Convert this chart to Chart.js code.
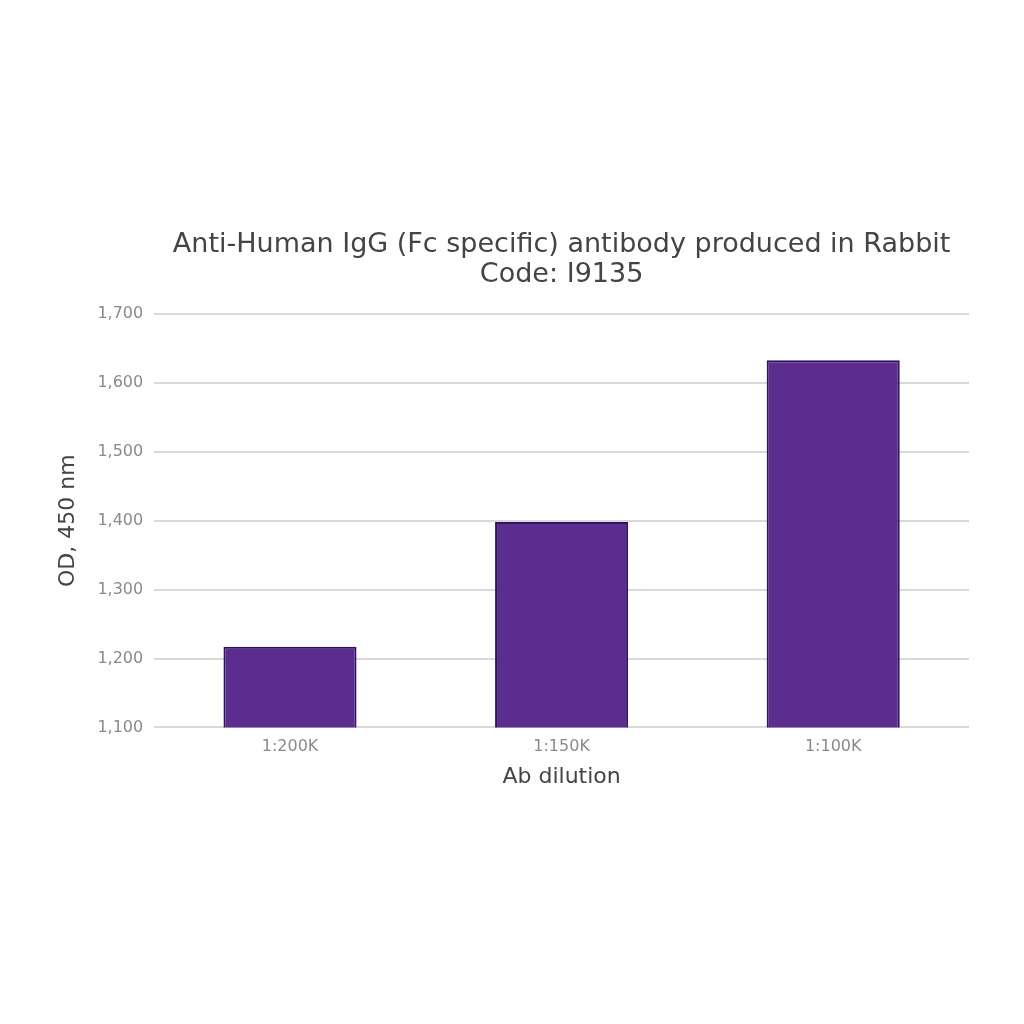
<!DOCTYPE html>
<html>
<head>
<meta charset="utf-8">
<script src="https://cdn.jsdelivr.net/npm/chart.js@4/dist/chart.umd.min.js"></script>
<style>
  html, body { margin: 0; padding: 0; background: #fff; }
  #wrap { width: 1024px; height: 1024px; }
</style>
</head>
<body>
<div id="wrap"><canvas id="chart-bar" width="1024" height="1024"></canvas></div>
<script>
// данные графика
const dilutions = ["1:200K", "1:150K", "1:100K"];
const odValues = [1.217, 1.398, 1.633];
const yTicks = [1.1, 1.2, 1.3, 1.4, 1.5, 1.6, 1.7];
const titleLines = [
  "Anti-Human IgG (Fc specific) antibody produced in Rabbit",
  "Code: I9135",
];

const FONT = "'DejaVu Sans', Verdana, sans-serif";

// формат подписей оси Y: 1,200
function formatTick(value) {
  return value.toFixed(3).replace(".", ",");
}

// заголовок по центру области графика, а не всего canvas
const areaTitlePlugin = {
  id: "areaTitlePlugin",
  afterDraw: function (chart) {
    const ctx = chart.ctx;
    const area = chart.chartArea;
    const x = (area.left + area.right) / 2;
    ctx.save();
    ctx.font = "27px " + FONT;
    ctx.fillStyle = "#444";
    ctx.textAlign = "center";
    ctx.textBaseline = "middle";
    titleLines.forEach((line, i) => {
      ctx.fillText(line, x, area.top - 69 + i * 30);
    });
    ctx.restore();
  },
};

const ctx = document.getElementById("chart-bar").getContext("2d");

new Chart(ctx, {
  type: "bar",
  data: {
    labels: dilutions,
    datasets: [
      {
        data: odValues,
        backgroundColor: "#5b2d8e",
        borderColor: "#2e1263",
        borderWidth: 2,
        barPercentage: 0.49,
        categoryPercentage: 1,
      },
    ],
  },
  plugins: [areaTitlePlugin],
  options: {
    responsive: false,
    animation: false,
    devicePixelRatio: 1,
    layout: { padding: { top: 314, bottom: 234, left: 55, right: 55 } },
    scales: {
      y: {
        min: 1.1,
        max: 1.7,
        afterBuildTicks: (axis) => {
          axis.ticks = yTicks.map((v) => ({ value: v }));
        },
        border: { display: false },
        grid: { color: "#d9d9d9", lineWidth: 2, drawTicks: false },
        ticks: {
          callback: formatTick,
          color: "#8a8a8a",
          font: { family: FONT, size: 16 },
          padding: 11,
        },
        title: {
          display: true,
          text: "OD, 450 nm",
          color: "#444",
          font: { family: FONT, size: 22 },
          padding: { top: 0, bottom: 5 },
        },
      },
      x: {
        border: { display: false },
        grid: { display: false },
        ticks: {
          color: "#8a8a8a",
          font: { family: FONT, size: 16 },
          padding: 2,
        },
        title: {
          display: true,
          text: "Ab dilution",
          color: "#444",
          font: { family: FONT, size: 22 },
          padding: { top: 5, bottom: 0 },
        },
      },
    },
    plugins: {
      legend: { display: false },
      tooltip: { enabled: false },
      title: { display: false },
    },
  },
});
</script>
</body>
</html>
